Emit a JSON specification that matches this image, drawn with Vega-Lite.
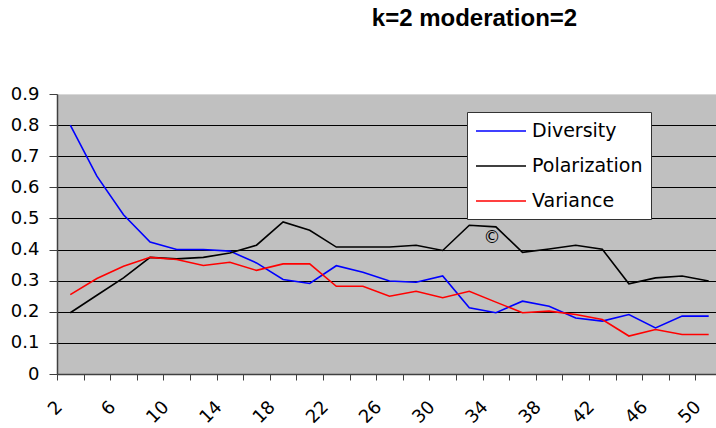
{
  "$schema": "https://vega.github.io/schema/vega-lite/v6.json",
  "autosize": {"type": "none"},
  "padding": {"left": 57, "top": 94, "right": -6, "bottom": 54},
  "width": 665,
  "height": 280,
  "background": "white",
  "title": {
    "text": "k=2 moderation=2",
    "font": "Liberation Sans",
    "fontSize": 24,
    "fontWeight": "bold",
    "color": "black",
    "anchor": "middle",
    "frame": "group",
    "dx": 85,
    "offset": 54
  },
  "config": {
    "view": {"fill": "#c0c0c0", "stroke": null},
    "axis": {"labelFont": "DejaVu Sans", "labelFontSize": 18, "labelColor": "black"}
  },
  "layer": [
    {
      "data": {
        "values": [
          {"x": 2, "series": "Diversity", "value": 0.8},
          {"x": 4, "series": "Diversity", "value": 0.636},
          {"x": 6, "series": "Diversity", "value": 0.512},
          {"x": 8, "series": "Diversity", "value": 0.424},
          {"x": 10, "series": "Diversity", "value": 0.4},
          {"x": 12, "series": "Diversity", "value": 0.4},
          {"x": 14, "series": "Diversity", "value": 0.395},
          {"x": 16, "series": "Diversity", "value": 0.357},
          {"x": 18, "series": "Diversity", "value": 0.304},
          {"x": 20, "series": "Diversity", "value": 0.291},
          {"x": 22, "series": "Diversity", "value": 0.348},
          {"x": 24, "series": "Diversity", "value": 0.327},
          {"x": 26, "series": "Diversity", "value": 0.299},
          {"x": 28, "series": "Diversity", "value": 0.295},
          {"x": 30, "series": "Diversity", "value": 0.315},
          {"x": 32, "series": "Diversity", "value": 0.213},
          {"x": 34, "series": "Diversity", "value": 0.197},
          {"x": 36, "series": "Diversity", "value": 0.234},
          {"x": 38, "series": "Diversity", "value": 0.218},
          {"x": 40, "series": "Diversity", "value": 0.18},
          {"x": 42, "series": "Diversity", "value": 0.17},
          {"x": 44, "series": "Diversity", "value": 0.191},
          {"x": 46, "series": "Diversity", "value": 0.148},
          {"x": 48, "series": "Diversity", "value": 0.186},
          {"x": 50, "series": "Diversity", "value": 0.186},
          {"x": 2, "series": "Polarization", "value": 0.197},
          {"x": 4, "series": "Polarization", "value": 0.253},
          {"x": 6, "series": "Polarization", "value": 0.309},
          {"x": 8, "series": "Polarization", "value": 0.375},
          {"x": 10, "series": "Polarization", "value": 0.37},
          {"x": 12, "series": "Polarization", "value": 0.375},
          {"x": 14, "series": "Polarization", "value": 0.389},
          {"x": 16, "series": "Polarization", "value": 0.414},
          {"x": 18, "series": "Polarization", "value": 0.489},
          {"x": 20, "series": "Polarization", "value": 0.462},
          {"x": 22, "series": "Polarization", "value": 0.408},
          {"x": 24, "series": "Polarization", "value": 0.408},
          {"x": 26, "series": "Polarization", "value": 0.408},
          {"x": 28, "series": "Polarization", "value": 0.414},
          {"x": 30, "series": "Polarization", "value": 0.397},
          {"x": 32, "series": "Polarization", "value": 0.478},
          {"x": 34, "series": "Polarization", "value": 0.473},
          {"x": 36, "series": "Polarization", "value": 0.391},
          {"x": 38, "series": "Polarization", "value": 0.402},
          {"x": 40, "series": "Polarization", "value": 0.414},
          {"x": 42, "series": "Polarization", "value": 0.401},
          {"x": 44, "series": "Polarization", "value": 0.29},
          {"x": 46, "series": "Polarization", "value": 0.309},
          {"x": 48, "series": "Polarization", "value": 0.315},
          {"x": 50, "series": "Polarization", "value": 0.299},
          {"x": 2, "series": "Variance", "value": 0.255},
          {"x": 4, "series": "Variance", "value": 0.307},
          {"x": 6, "series": "Variance", "value": 0.346},
          {"x": 8, "series": "Variance", "value": 0.375},
          {"x": 10, "series": "Variance", "value": 0.368},
          {"x": 12, "series": "Variance", "value": 0.349},
          {"x": 14, "series": "Variance", "value": 0.359},
          {"x": 16, "series": "Variance", "value": 0.333},
          {"x": 18, "series": "Variance", "value": 0.354},
          {"x": 20, "series": "Variance", "value": 0.354},
          {"x": 22, "series": "Variance", "value": 0.282},
          {"x": 24, "series": "Variance", "value": 0.282},
          {"x": 26, "series": "Variance", "value": 0.25},
          {"x": 28, "series": "Variance", "value": 0.266},
          {"x": 30, "series": "Variance", "value": 0.245},
          {"x": 32, "series": "Variance", "value": 0.266},
          {"x": 34, "series": "Variance", "value": 0.231},
          {"x": 36, "series": "Variance", "value": 0.197},
          {"x": 38, "series": "Variance", "value": 0.202},
          {"x": 40, "series": "Variance", "value": 0.191},
          {"x": 42, "series": "Variance", "value": 0.175},
          {"x": 44, "series": "Variance", "value": 0.122},
          {"x": 46, "series": "Variance", "value": 0.143},
          {"x": 48, "series": "Variance", "value": 0.127},
          {"x": 50, "series": "Variance", "value": 0.127}
        ]
      },
      "mark": {"type": "line", "strokeWidth": 1.6},
      "encoding": {
        "x": {
          "field": "x",
          "type": "ordinal",
          "bandPosition": 0.5,
          "scale": {"type": "band", "paddingInner": 0, "paddingOuter": 0},
          "axis": {
            "title": null,
            "labelAngle": -45,
            "labelAlign": "right",
            "labelBaseline": "middle",
            "labelExpr": "(datum.value - 2) % 4 == 0 ? datum.label : ''",
            "labelOverlap": false,
            "labelPadding": 24,
            "labelOffset": -11,
            "tickBand": "extent",
            "tickSize": 6,
            "tickColor": "#404040",
            "domainColor": "#404040",
            "domainWidth": 1.5,
            "grid": false
          }
        },
        "y": {
          "field": "value",
          "type": "quantitative",
          "scale": {"domain": [0, 0.9], "nice": false, "zero": true},
          "axis": {
            "title": null,
            "values": [0, 0.1, 0.2, 0.3, 0.4, 0.5, 0.6, 0.7, 0.8, 0.9],
            "tickCount": 20,
            "labelExpr": "datum.value == 0 ? '0' : format(datum.value, '.1f')",
            "labelOverlap": false,
            "labelFlush": false,
            "grid": true,
            "gridColor": {"condition": {"test": "datum.value > 0.85", "value": "#d8d8d8"}, "value": "black"},
            "gridWidth": 1,
            "tickSize": 8,
            "labelPadding": 10,
            "tickColor": "#404040",
            "domainColor": "#404040",
            "domainWidth": 1.5
          }
        },
        "color": {
          "field": "series",
          "type": "nominal",
          "scale": {"domain": ["Diversity", "Polarization", "Variance"], "range": ["#0000ff", "#000000", "#ff0000"]},
          "legend": {
            "title": null,
            "orient": "none",
            "legendX": 410,
            "legendY": 18,
            "symbolType": "M-1,0H4",
            "symbolSize": 400,
            "symbolStrokeWidth": 1.5,
            "labelFont": "DejaVu Sans",
            "labelFontSize": 19,
            "labelColor": "black",
            "labelOffset": 35,
            "fillColor": "white",
            "strokeColor": "#333333",
            "padding": 8,
            "rowPadding": 14
          }
        }
      }
    },
    {
      "data": {"values": [{"x": 34, "value": 0.438, "label": "©"}]},
      "mark": {"type": "text", "font": "DejaVu Sans", "fontSize": 17, "color": "black", "dx": -4},
      "encoding": {
        "x": {"field": "x", "type": "ordinal", "bandPosition": 0.5},
        "y": {"field": "value", "type": "quantitative"},
        "text": {"field": "label"}
      }
    }
  ]
}
